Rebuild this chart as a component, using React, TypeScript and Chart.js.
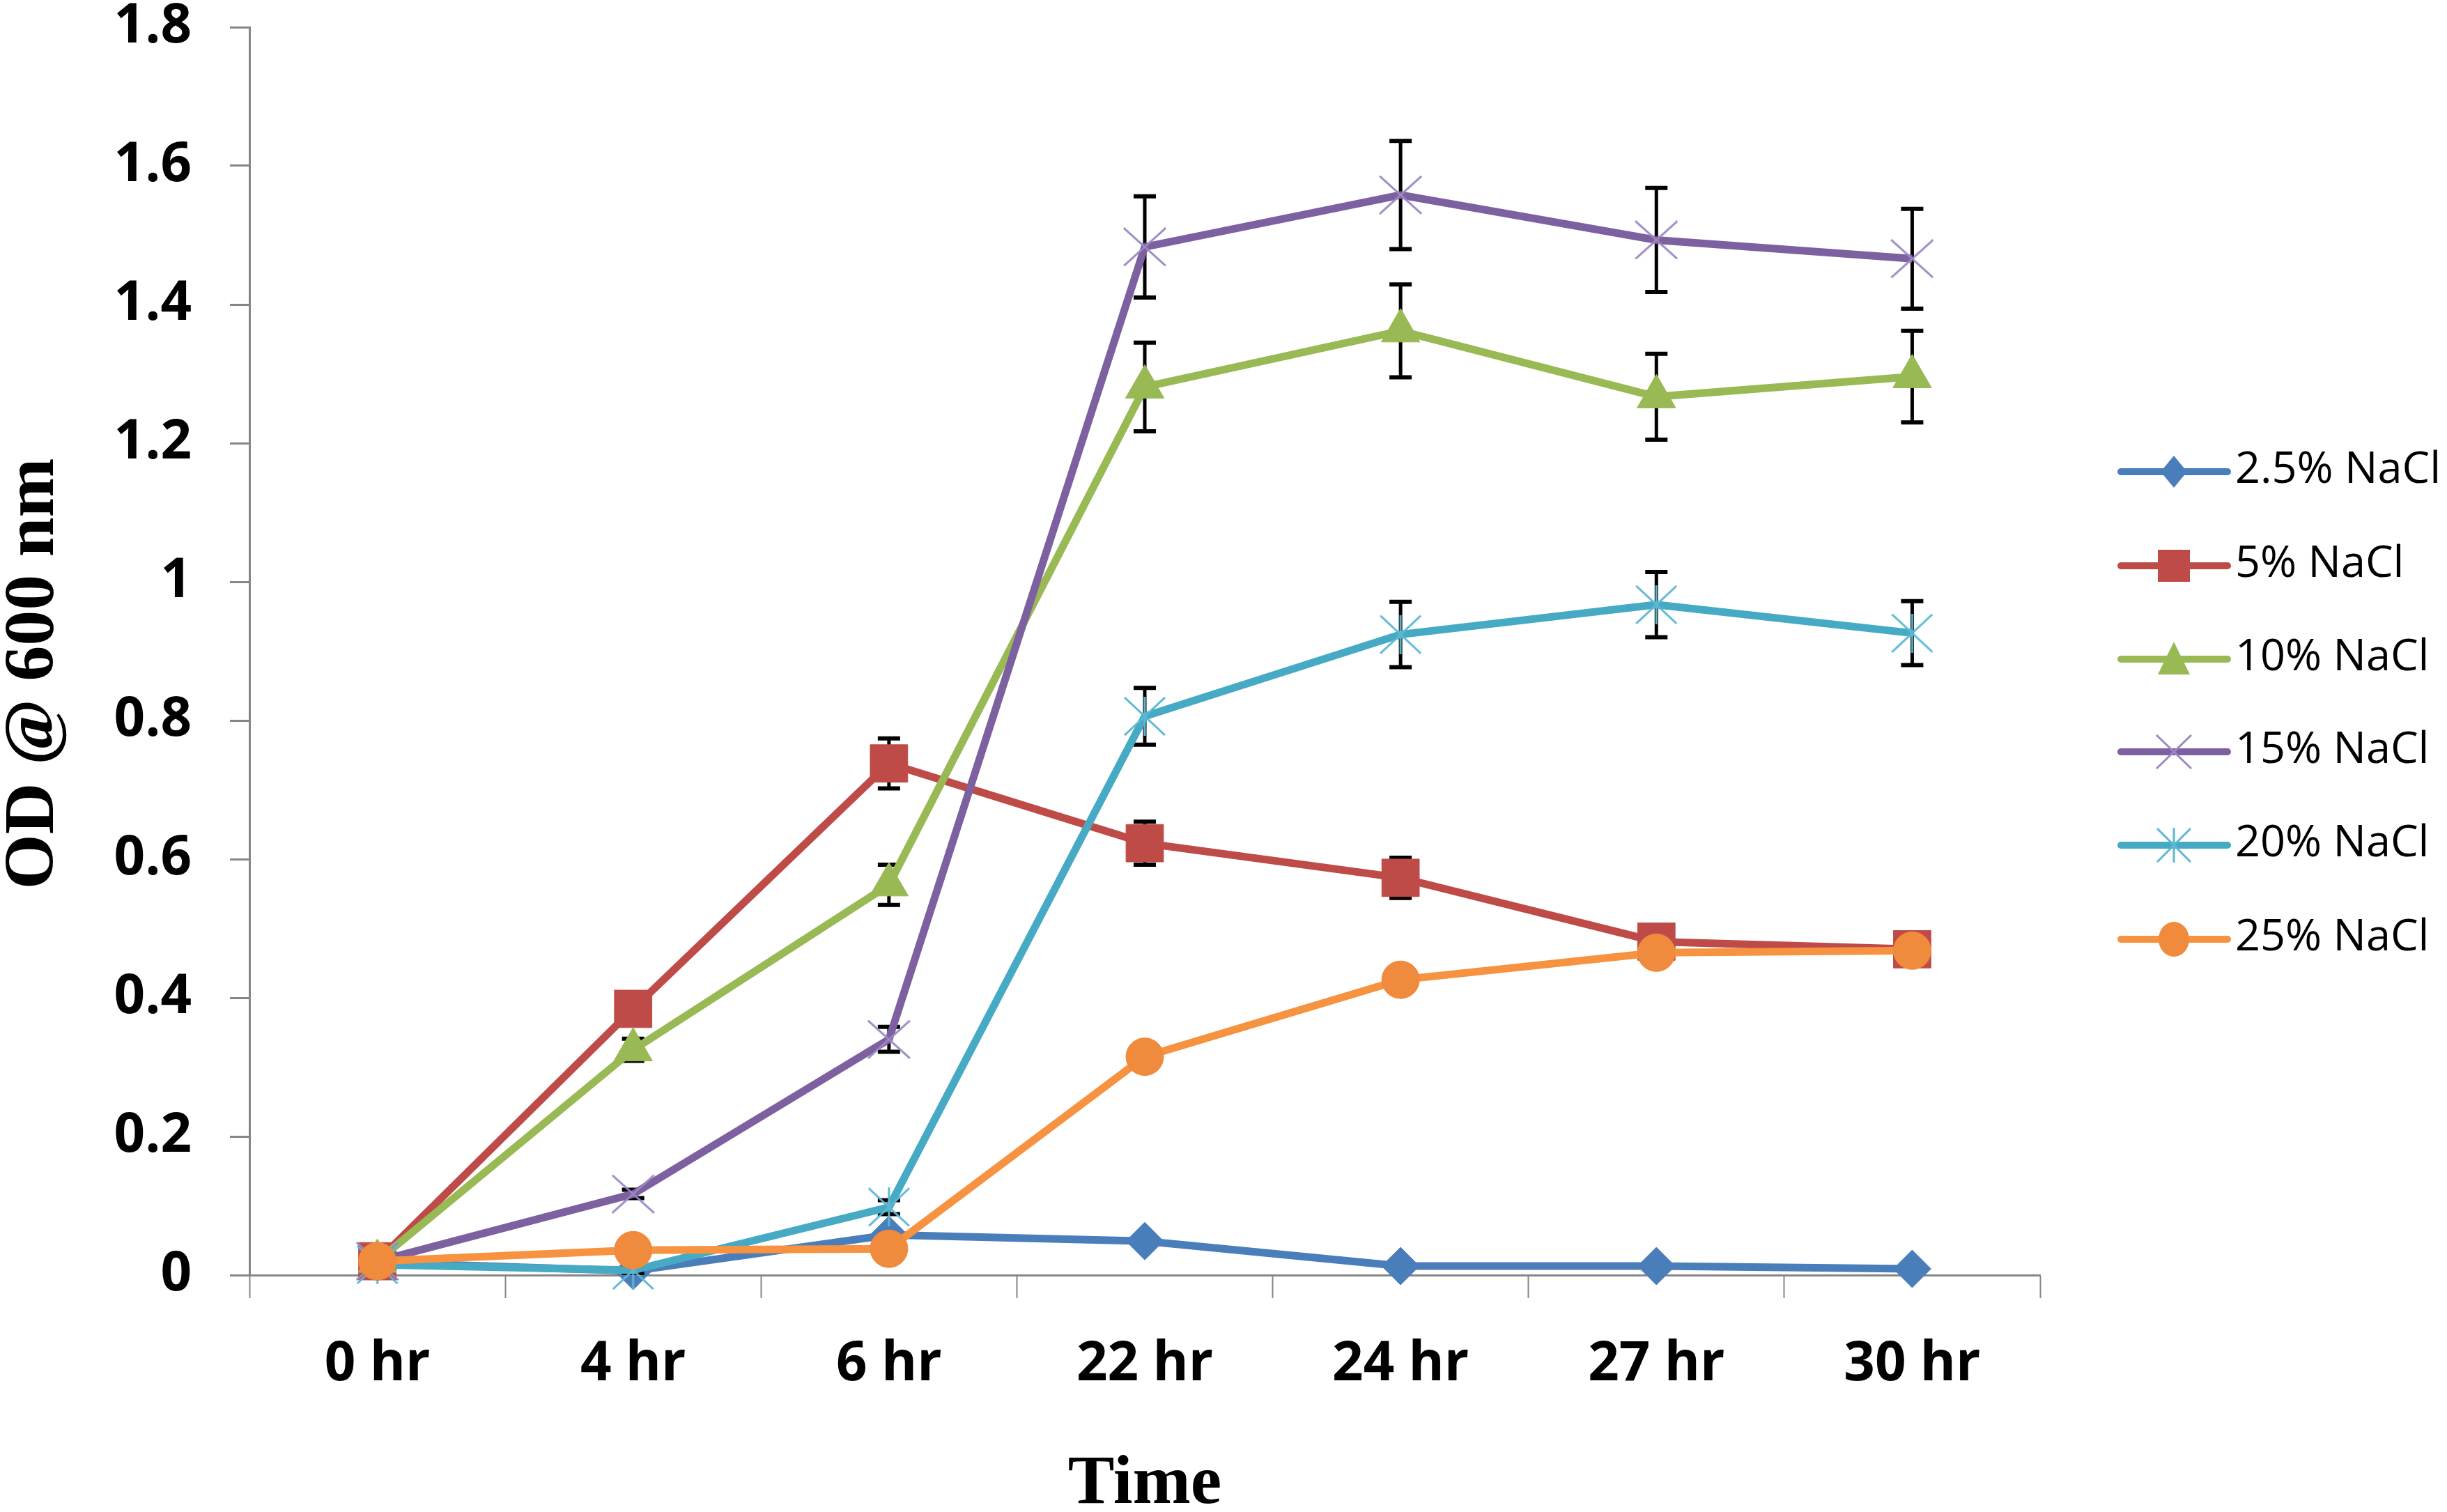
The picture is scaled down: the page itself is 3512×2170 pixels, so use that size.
import React, { useEffect, useRef } from 'react';
import { Chart, registerables } from 'chart.js';

Chart.register(...registerables);

// ---------- data ----------
const categories = ['0 hr', '4 hr', '6 hr', '22 hr', '24 hr', '27 hr', '30 hr'];
const seriesNames = ['2.5% NaCl', '5% NaCl', '10% NaCl', '15% NaCl', '20% NaCl', '25% NaCl'];

const nacl2_5 = [0.018, 0.006, 0.058, 0.049, 0.013, 0.013, 0.009];
const nacl5 = [0.02, 0.384, 0.738, 0.623, 0.573, 0.481, 0.47];
const nacl10 = [0.02, 0.325, 0.563, 1.281, 1.362, 1.267, 1.296];
const nacl15 = [0.02, 0.117, 0.34, 1.483, 1.558, 1.493, 1.466];
const nacl20 = [0.015, 0.007, 0.098, 0.806, 0.924, 0.967, 0.926];
const nacl25 = [0.02, 0.036, 0.038, 0.315, 0.426, 0.465, 0.468];

const err2_5 = [0, 0, 0, 0, 0, 0, 0];
const err5 = [0, 0.008, 0.036, 0.031, 0.029, 0.01, 0.012];
const err10 = [0, 0.016, 0.029, 0.064, 0.067, 0.062, 0.066];
const err15 = [0, 0.006, 0.018, 0.073, 0.078, 0.075, 0.072];
const err20 = [0, 0.004, 0.01, 0.041, 0.047, 0.047, 0.046];
const err25 = [0, 0.003, 0.003, 0.003, 0.003, 0.003, 0.003];

const yMin = 0;
const yMax = 1.8;
const yStep = 0.2;

const xTitle = 'Time';
const yTitle = 'OD @ 600 nm';

const seriesValues = [nacl2_5, nacl5, nacl10, nacl15, nacl20, nacl25];
const seriesErrors = [err2_5, err5, err10, err15, err20, err25];

// ---------- styles ----------
const W = 3512;
const H = 2170;
const lineColors = ['#4A7EBB', '#BE4B48', '#98B954', '#7D60A0', '#46AAC5', '#F69240'];
const markerColors = ['#4A7EBB', '#BE4B48', '#98B954', '#9B88C2', '#5CB8D2', '#F08A3C'];
const AXIS_GRAY = '#868686';
const SANS = '"Open Sans", "Noto Sans", sans-serif';
const SERIF = '"Liberation Serif", "DejaVu Serif", serif';

function makeXMarker(w: number, h: number, color: string, lw: number) {
  const c = document.createElement('canvas');
  c.width = w;
  c.height = h;
  const ctx = c.getContext('2d')!;
  ctx.strokeStyle = color;
  ctx.lineWidth = lw;
  ctx.beginPath();
  ctx.moveTo(1, 1);
  ctx.lineTo(w - 1, h - 1);
  ctx.moveTo(w - 1, 1);
  ctx.lineTo(1, h - 1);
  ctx.stroke();
  return c;
}

function makeStarMarker(w: number, h: number, color: string, lw: number) {
  const c = document.createElement('canvas');
  c.width = w;
  c.height = h;
  const ctx = c.getContext('2d')!;
  ctx.strokeStyle = color;
  ctx.lineWidth = lw;
  ctx.beginPath();
  ctx.moveTo(1, 1);
  ctx.lineTo(w - 1, h - 1);
  ctx.moveTo(w - 1, 1);
  ctx.lineTo(1, h - 1);
  ctx.moveTo(w / 2, 0);
  ctx.lineTo(w / 2, h);
  ctx.stroke();
  return c;
}

function drawLegendMarker(ctx: CanvasRenderingContext2D, kind: string, x: number, y: number, color: string, img?: HTMLCanvasElement) {
  ctx.save();
  ctx.fillStyle = color;
  ctx.beginPath();
  if (kind === 'diamond') {
    ctx.moveTo(x, y - 23);
    ctx.lineTo(x + 19, y);
    ctx.lineTo(x, y + 23);
    ctx.lineTo(x - 19, y);
    ctx.closePath();
    ctx.fill();
  } else if (kind === 'square') {
    ctx.rect(x - 23, y - 23, 46, 46);
    ctx.fill();
  } else if (kind === 'triangle') {
    ctx.moveTo(x, y - 25);
    ctx.lineTo(x + 23, y + 22);
    ctx.lineTo(x - 23, y + 22);
    ctx.closePath();
    ctx.fill();
  } else if (kind === 'circle') {
    ctx.ellipse(x, y, 22, 25, 0, 0, Math.PI * 2);
    ctx.fill();
  } else if (img) {
    ctx.drawImage(img, x - img.width / 2, y - img.height / 2);
  }
  ctx.restore();
}

export default function App() {
  const ref = useRef<HTMLCanvasElement | null>(null);

  useEffect(() => {
    if (!ref.current) return;
    const xMarker = makeXMarker(62, 56, markerColors[3], 3);
    const starMarker = makeStarMarker(60, 56, markerColors[4], 3);
    const xMarkerL = makeXMarker(52, 50, markerColors[3], 3);
    const starMarkerL = makeStarMarker(50, 50, markerColors[4], 3);

    const pointStyles: any[] = ['rectRot', 'rect', 'triangle', xMarker, starMarker, 'circle'];
    const pointRadii = [27, 38, 32, 28, 28, 27];
    const legendKinds = ['diamond', 'square', 'triangle', 'x', 'star', 'circle'];
    const legendImgs: (HTMLCanvasElement | undefined)[] = [undefined, undefined, undefined, xMarkerL, starMarkerL, undefined];

    const errorBarPlugin = {
      id: 'errorBars',
      beforeDatasetDraw(chart: any, args: any) {
        const idx = args.index;
        const errs = seriesErrors[idx];
        const vals = seriesValues[idx];
        const ys = chart.scales.y;
        const ctx = chart.ctx;
        ctx.save();
        ctx.strokeStyle = '#000000';
        args.meta.data.forEach((pt: any, i: number) => {
          const e = errs[i];
          if (!e) return;
          const top = ys.getPixelForValue(vals[i] + e);
          const bot = ys.getPixelForValue(vals[i] - e);
          ctx.lineWidth = 5;
          ctx.beginPath();
          ctx.moveTo(pt.x, top);
          ctx.lineTo(pt.x, bot);
          ctx.stroke();
          ctx.lineWidth = 6;
          ctx.beginPath();
          ctx.moveTo(pt.x - 16, top);
          ctx.lineTo(pt.x + 16, top);
          ctx.moveTo(pt.x - 16, bot);
          ctx.lineTo(pt.x + 16, bot);
          ctx.stroke();
        });
        ctx.restore();
      },
    };

    const textPlugin = {
      id: 'customLegendAndTitle',
      afterDraw(chart: any) {
        const ctx = chart.ctx;
        // y axis title
        ctx.save();
        ctx.translate(50, 967);
        ctx.rotate(-Math.PI / 2);
        ctx.fillStyle = '#000000';
        ctx.font = `bold 102px ${SERIF}`;
        ctx.textAlign = 'center';
        ctx.textBaseline = 'middle';
        ctx.fillText(yTitle, 0, 0);
        ctx.restore();

        // legend
        const rowY = [677, 812, 946, 1079, 1213, 1348];
        const x0 = 3044;
        const x1 = 3197;
        const mx = 3120;
        ctx.save();
        seriesNames.forEach((name, i) => {
          const y = rowY[i];
          ctx.strokeStyle = lineColors[i];
          ctx.lineWidth = 10;
          ctx.lineCap = 'round';
          ctx.beginPath();
          ctx.moveTo(x0, y);
          ctx.lineTo(x1, y);
          ctx.stroke();
          drawLegendMarker(ctx, legendKinds[i], mx, y, markerColors[i], legendImgs[i]);
          ctx.fillStyle = '#000000';
          ctx.font = `63px ${SANS}`;
          ctx.textAlign = 'left';
          ctx.textBaseline = 'middle';
          ctx.fillText(name, 3208, y - 2);
        });
        ctx.restore();
      },
    };

    const datasets = seriesNames.map((name, i) => ({
      label: name,
      data: seriesValues[i],
      borderColor: lineColors[i],
      backgroundColor: markerColors[i],
      borderWidth: 11,
      pointStyle: pointStyles[i],
      pointRadius: pointRadii[i],
      pointBackgroundColor: markerColors[i],
      pointBorderColor: markerColors[i],
      pointBorderWidth: 1,
      tension: 0,
      clip: false as any,
      order: seriesNames.length - i,
    }));

    const chart = new Chart(ref.current, {
      type: 'line',
      data: { labels: categories, datasets },
      plugins: [errorBarPlugin, textPlugin],
      options: {
        responsive: false,
        maintainAspectRatio: false,
        devicePixelRatio: 1,
        animation: false,
        events: [],
        layout: { padding: { top: 33, right: 584, bottom: 0, left: 0 } },
        plugins: {
          legend: { display: false },
          tooltip: { enabled: false },
          title: { display: false },
        },
        scales: {
          x: {
            type: 'category',
            offset: true,
            afterFit: (s: any) => {
              s.height = 340;
            },
            grid: {
              offset: true,
              drawOnChartArea: false,
              drawTicks: true,
              tickLength: 33,
              tickColor: AXIS_GRAY,
              tickWidth: 2,
            },
            border: { display: true, color: AXIS_GRAY, width: 3 },
            ticks: {
              color: '#000000',
              padding: 49,
              font: { family: SANS, size: 78, weight: 'bold' },
              maxRotation: 0,
              autoSkip: false,
            },
            title: {
              display: true,
              text: xTitle,
              color: '#000000',
              padding: 0,
              font: { family: SERIF, size: 100, weight: 'bold', lineHeight: 0.78 },
            },
          },
          y: {
            min: yMin,
            max: yMax,
            afterFit: (s: any) => {
              s.width = 358;
              s.paddingTop = 0;
              s.paddingBottom = 0;
            },
            grid: {
              drawOnChartArea: false,
              drawTicks: true,
              tickLength: 28,
              tickColor: AXIS_GRAY,
              tickWidth: 3,
            },
            border: { display: true, color: AXIS_GRAY, width: 3 },
            ticks: {
              stepSize: yStep,
              color: '#000000',
              padding: 55,
              font: { family: SANS, size: 78, weight: 'bold', lineHeight: 0.8 },
              callback: (v: any) => String(Number(Number(v).toFixed(1))),
            },
            title: { display: false },
          },
        },
      } as any,
    });

    return () => chart.destroy();
  }, []);

  return (
    <div style={{ position: 'absolute', left: 0, top: 0, width: W, height: H, background: '#ffffff' }}>
      <canvas ref={ref} width={W} height={H} style={{ width: W, height: H, display: 'block' }} />
    </div>
  );
}
